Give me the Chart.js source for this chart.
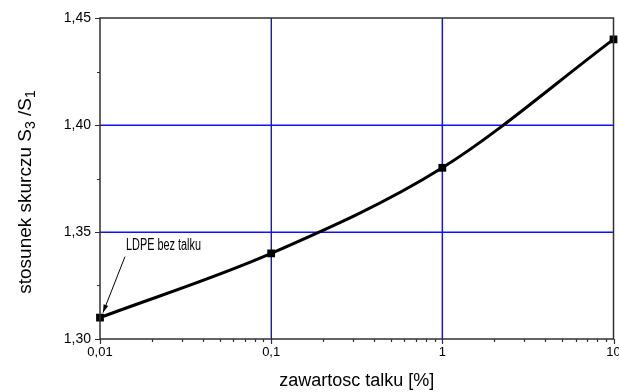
<!DOCTYPE html>
<html>
<head>
<meta charset="utf-8">
<script src="https://cdn.jsdelivr.net/npm/chart.js@4/dist/chart.umd.min.js"></script>
<style>
html,body{margin:0;padding:0;background:#fff;}
#wrap{width:619px;height:392px;}
</style>
</head>
<body>
<div id="wrap"><canvas id="c" width="619" height="392"></canvas></div>
<script>
// ---- data ----
const talcContent = [0.01, 0.1, 1, 10];          // zawartosc talku [%]
const shrinkRatio = [1.31, 1.34, 1.38, 1.44];   // S3/S1
const xTicks = [0.01, 0.1, 1, 10];
const xTickLabels = ['0,01', '0,1', '1', '10'];
const yTicks = [1.30, 1.35, 1.40, 1.45];
const yTickLabels = ['1,30', '1,35', '1,40', '1,45'];
const xTitle = 'zawartosc talku [%]';
const yTitleParts = [['stosunek skurczu S', false], ['3', true], [' /S', false], ['1', true]];
const annotationText = 'LDPE bez talku';

const FONT = '"Liberation Sans", Arial, sans-serif';

const gridPlugin = {
  id: 'bluegrid',
  beforeDatasetsDraw(chart) {
    const ctx = chart.ctx, a = chart.chartArea;
    const xs = chart.scales.x, ys = chart.scales.y;
    ctx.save();
    ctx.strokeStyle = '#1010ff';
    ctx.lineWidth = 1.4;
    ctx.beginPath();
    xTicks.slice(1, -1).forEach(v => {
      const x = Math.round(xs.getPixelForValue(v)) + 0.3;
      ctx.moveTo(x, a.top); ctx.lineTo(x, a.bottom);
    });
    yTicks.slice(1, -1).forEach(v => {
      const y = Math.round(ys.getPixelForValue(v)) + 0.3;
      ctx.moveTo(a.left, y); ctx.lineTo(a.right, y);
    });
    ctx.stroke();
    ctx.restore();
  }
};

const decorPlugin = {
  id: 'decor',
  afterDraw(chart) {
    const ctx = chart.ctx;
    const a = chart.chartArea;
    const xs = chart.scales.x, ys = chart.scales.y;
    ctx.save();
    // frame
    ctx.strokeStyle = '#303030';
    ctx.lineWidth = 1.5;
    ctx.strokeRect(a.left, a.top, a.right - a.left, a.bottom - a.top);
    // y ticks (major + half-step minor)
    ctx.lineWidth = 1.2;
    ctx.beginPath();
    for (let i = 0; i < yTicks.length; i++) {
      const y = Math.round(ys.getPixelForValue(yTicks[i])) + 0.5;
      ctx.moveTo(a.left - 5, y); ctx.lineTo(a.left, y);
      if (i < yTicks.length - 1) {
        const ym = Math.round(ys.getPixelForValue((yTicks[i] + yTicks[i + 1]) / 2)) + 0.5;
        ctx.moveTo(a.left - 3, ym); ctx.lineTo(a.left, ym);
      }
    }
    // x ticks: decades major, 2..9 minor
    for (let i = 0; i < xTicks.length; i++) {
      const x = Math.round(xs.getPixelForValue(xTicks[i])) + 0.5;
      ctx.moveTo(x, a.bottom); ctx.lineTo(x, a.bottom + 5);
      if (i < xTicks.length - 1) {
        for (let k = 2; k <= 9; k++) {
          const xm = Math.round(xs.getPixelForValue(xTicks[i] * k)) + 0.5;
          ctx.moveTo(xm, a.bottom); ctx.lineTo(xm, a.bottom + 3);
        }
      }
    }
    ctx.stroke();

    // x title
    ctx.fillStyle = '#000';
    ctx.font = '18px ' + FONT;
    ctx.textAlign = 'center';
    ctx.textBaseline = 'middle';
    ctx.fillText(xTitle, (a.left + a.right) / 2, 381);

    // y title with subscripts
    const mainF = '19px ' + FONT, subF = '14px ' + FONT;
    let total = 0;
    yTitleParts.forEach(([t, sub]) => { ctx.font = sub ? subF : mainF; total += ctx.measureText(t).width; });
    ctx.save();
    ctx.translate(31, 192);
    ctx.rotate(-Math.PI / 2);
    ctx.textAlign = 'left';
    ctx.textBaseline = 'alphabetic';
    let cx = -total / 2;
    yTitleParts.forEach(([t, sub]) => {
      ctx.font = sub ? subF : mainF;
      ctx.fillText(t, cx, sub ? 4 : 0);
      cx += ctx.measureText(t).width;
    });
    ctx.restore();

    // annotation: label + arrow pointing to first point
    const px = xs.getPixelForValue(talcContent[0]);
    const py = ys.getPixelForValue(shrinkRatio[0]);
    ctx.save();
    ctx.translate(px + 26, py - 68);
    ctx.scale(0.68, 1);
    ctx.font = '16px ' + FONT;
    ctx.textAlign = 'left';
    ctx.textBaseline = 'alphabetic';
    ctx.fillText(annotationText, 0, 0);
    ctx.restore();
    const x0 = px + 25, y0 = py - 61, x1 = px + 3, y1 = py - 5;
    ctx.strokeStyle = '#000';
    ctx.lineWidth = 1;
    ctx.beginPath(); ctx.moveTo(x0, y0); ctx.lineTo(x1, y1); ctx.stroke();
    const ang = Math.atan2(y1 - y0, x1 - x0);
    const L = 8, W = 2.5;
    ctx.beginPath();
    ctx.moveTo(x1, y1);
    ctx.lineTo(x1 - L * Math.cos(ang) + W * Math.sin(ang), y1 - L * Math.sin(ang) - W * Math.cos(ang));
    ctx.lineTo(x1 - L * Math.cos(ang) - W * Math.sin(ang), y1 - L * Math.sin(ang) + W * Math.cos(ang));
    ctx.closePath();
    ctx.fillStyle = '#000';
    ctx.fill();
    ctx.restore();
  }
};

new Chart(document.getElementById('c'), {
  type: 'line',
  data: {
    datasets: [{
      data: talcContent.map((x, i) => ({ x, y: shrinkRatio[i] })),
      borderColor: '#000',
      backgroundColor: '#000',
      borderWidth: 3,
      cubicInterpolationMode: 'monotone',
      pointStyle: 'rect',
      pointRadius: 5.5,
      pointBorderWidth: 0,
      pointBackgroundColor: '#000',
      clip: false
    }]
  },
  options: {
    responsive: false,
    devicePixelRatio: 1,
    animation: false,
    layout: { padding: { left: 0, top: 18, right: 3, bottom: 0 } },
    plugins: { legend: { display: false }, tooltip: { enabled: false } },
    scales: {
      x: {
        type: 'logarithmic',
        min: xTicks[0], max: xTicks[xTicks.length - 1],
        afterBuildTicks: s => { s.ticks = xTicks.map(v => ({ value: v })); },
        afterFit: s => { s.height = 53; s.paddingLeft = 0; s.paddingRight = 0; },
        border: { display: false },
        grid: { display: false, drawTicks: false },
        ticks: {
          autoSkip: false, maxRotation: 0, padding: 6,
          color: '#000', font: { family: FONT, size: 13 },
          callback: v => { const i = xTicks.findIndex(t => Math.abs(t - v) < 1e-9); return i >= 0 ? xTickLabels[i] : ''; }
        }
      },
      y: {
        type: 'linear',
        min: yTicks[0], max: yTicks[yTicks.length - 1],
        afterBuildTicks: s => { s.ticks = yTicks.map(v => ({ value: v })); },
        afterFit: s => { s.width = 100; },
        border: { display: false },
        grid: { display: false, drawTicks: false },
        ticks: {
          padding: 9,
          color: '#000', font: { family: FONT, size: 14 },
          callback: v => { const i = yTicks.findIndex(t => Math.abs(t - v) < 1e-9); return i >= 0 ? yTickLabels[i] : ''; }
        }
      }
    }
  },
  plugins: [gridPlugin, decorPlugin]
});
</script>
</body>
</html>
